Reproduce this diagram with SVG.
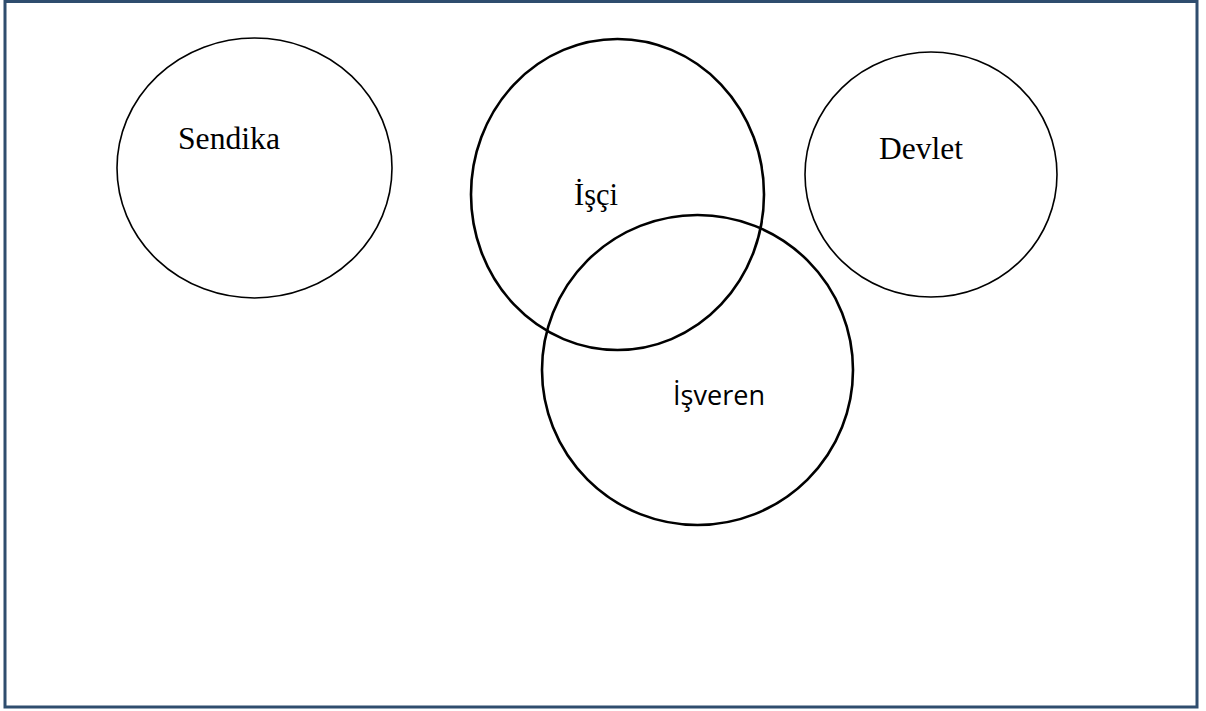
<svg xmlns="http://www.w3.org/2000/svg" width="1206" height="711" viewBox="0 0 1206 711">
<style>
.frame{fill:#fff;stroke:#2F4D6E;stroke-width:3}
.thin{fill:none;stroke:#000;stroke-width:1.6}
.thick{fill:none;stroke:#000;stroke-width:2.6}
.serif{font-family:"Liberation Serif","Times New Roman",serif;font-size:32px;fill:#000}
.sans{font-family:"Open Sans","Liberation Sans",sans-serif;font-size:27px;fill:#000}
</style>
<rect class="frame" x="5" y="1.5" width="1192" height="705.5"/>
<g id="sendika">
<ellipse class="thin" cx="254.5" cy="168" rx="137.5" ry="130"/>
<text class="serif" x="178" y="149" textLength="102" lengthAdjust="spacingAndGlyphs">Sendika</text>
</g>
<g id="devlet">
<ellipse class="thin" cx="931" cy="174.5" rx="126" ry="122.5"/>
<text class="serif" x="879" y="159" textLength="84" lengthAdjust="spacingAndGlyphs">Devlet</text>
</g>
<g id="isci">
<ellipse class="thick" cx="617.5" cy="194.5" rx="146.5" ry="155.5"/>
<text class="serif" x="574" y="205" textLength="44" lengthAdjust="spacingAndGlyphs">İşçi</text>
</g>
<g id="isveren">
<ellipse class="thick" cx="697.5" cy="370" rx="155.5" ry="155"/>
<text class="sans" x="673" y="405" textLength="92" lengthAdjust="spacingAndGlyphs">İşveren</text>
</g>
<g id="connectors"/>
</svg>
